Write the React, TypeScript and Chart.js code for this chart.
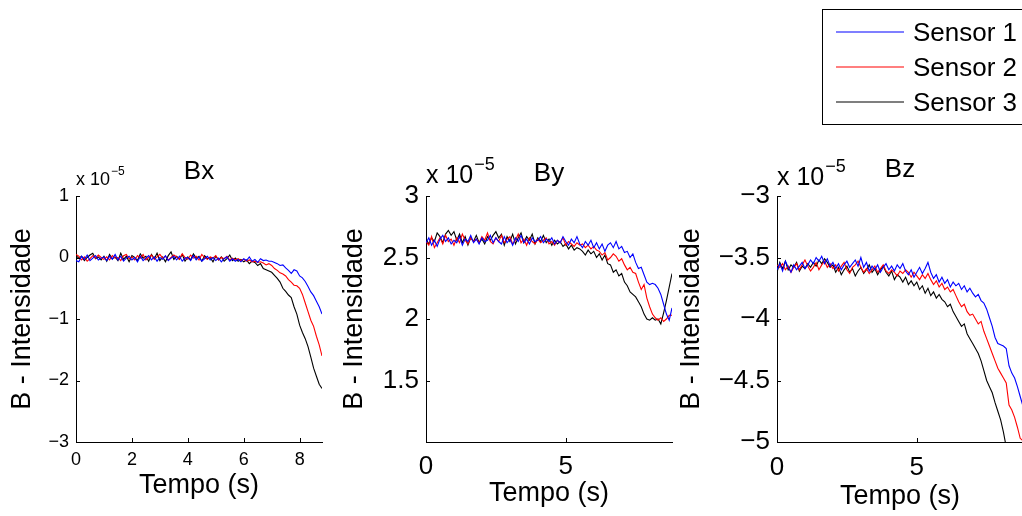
import React, { useEffect, useRef } from 'react';
import { Chart, registerables } from 'chart.js';

Chart.register(...registerables);

// ---------------- DATA (values in units of 1e-5) ----------------
const TIME = [
  0.0, 0.1, 0.2, 0.3, 0.4, 0.5, 0.6, 0.7, 0.8, 0.9,
  1.0, 1.1, 1.2, 1.3, 1.4, 1.5, 1.6, 1.7, 1.8, 1.9,
  2.0, 2.1, 2.2, 2.3, 2.4, 2.5, 2.6, 2.7, 2.8, 2.9,
  3.0, 3.1, 3.2, 3.3, 3.4, 3.5, 3.6, 3.7, 3.8, 3.9,
  4.0, 4.1, 4.2, 4.3, 4.4, 4.5, 4.6, 4.7, 4.8, 4.9,
  5.0, 5.1, 5.2, 5.3, 5.4, 5.5, 5.6, 5.7, 5.8, 5.9,
  6.0, 6.1, 6.2, 6.3, 6.4, 6.5, 6.6, 6.7, 6.8, 6.9,
  7.0, 7.1, 7.2, 7.3, 7.4, 7.5, 7.6, 7.7, 7.8, 7.9,
  8.0, 8.1, 8.2, 8.3, 8.4, 8.5, 8.6, 8.7, 8.8,
];

const SERIES_NAMES = ['Sensor 1', 'Sensor 2', 'Sensor 3'];
const SERIES_COLORS = ['#0000ff', '#ff0000', '#000000'];

const BX_SENSOR1 = [
  -0.05, -0.07, 0.02, -0.03, 0.04, -0.05, -0.01, 0.03, -0.04, -0.01,
  0.01, -0.05, 0.02, -0.03, 0.05, -0.04, 0.02, -0.06, -0.01, 0.02,
  -0.04, 0.00, -0.07, 0.02, -0.05, -0.01, 0.03, -0.04, 0.01, -0.06,
  0.00, -0.03, 0.03, -0.05, -0.01, 0.02, -0.04, 0.02, -0.06, -0.01,
  0.00, -0.05, 0.03, -0.04, 0.01, -0.06, -0.02, 0.02, -0.04, 0.00,
  -0.05, -0.01, -0.07, -0.02, 0.01, -0.06, -0.02, -0.06, -0.03, -0.07,
  -0.02, -0.05, 0.01, -0.06, -0.03, -0.08, -0.02, -0.05, -0.04, -0.06,
  -0.06, -0.08, -0.10, -0.13, -0.12, -0.17, -0.21, -0.26, -0.20, -0.22,
  -0.30, -0.33, -0.39, -0.47, -0.56, -0.62, -0.71, -0.80, -0.92,
];
const BX_SENSOR2 = [
  0.05, 0.02, -0.04, 0.01, -0.06, -0.02, 0.03, -0.01, 0.04, 0.00,
  -0.03, 0.01, -0.04, 0.03, -0.01, 0.00, -0.05, 0.03, 0.05, -0.02,
  0.01, -0.04, 0.03, -0.01, 0.05, -0.04, 0.00, 0.04, -0.03, 0.01,
  0.05, -0.01, 0.02, -0.04, 0.00, 0.04, 0.01, -0.03, 0.06, 0.00,
  -0.03, 0.04, -0.01, 0.02, -0.04, 0.05, 0.00, -0.03, 0.01, -0.01,
  0.03, -0.04, 0.00, -0.02, 0.02, -0.04, -0.01, -0.04, -0.02, -0.05,
  -0.03, -0.06, -0.04, -0.07, -0.06, -0.08, -0.07, -0.09, -0.12, -0.10,
  -0.13, -0.18, -0.21, -0.25, -0.27, -0.30, -0.36, -0.40, -0.45, -0.46,
  -0.50, -0.60, -0.74, -0.88, -1.02, -1.12, -1.28, -1.42, -1.60,
];
const BX_SENSOR3 = [
  0.03, -0.01, 0.02, -0.05, 0.00, 0.04, 0.07, -0.02, 0.01, -0.04,
  0.02, -0.06, 0.05, -0.02, 0.01, -0.05, 0.07, -0.03, 0.02, -0.07,
  0.03, 0.00, -0.05, 0.06, -0.01, 0.02, -0.06, 0.05, -0.02, 0.07,
  -0.05, 0.01, -0.07, 0.03, 0.09, -0.03, 0.02, -0.03, 0.05, -0.06,
  0.01, -0.04, 0.06, -0.01, 0.02, -0.06, 0.03, -0.02, 0.00, -0.07,
  0.02, -0.04, 0.01, -0.06, -0.02, 0.04, -0.05, -0.01, -0.06, -0.03,
  -0.07, -0.04, -0.10, -0.06, -0.08, -0.13, -0.10, -0.18, -0.20, -0.22,
  -0.24, -0.29, -0.34, -0.40, -0.50, -0.55, -0.61, -0.65, -0.80, -0.92,
  -1.10, -1.22, -1.32, -1.45, -1.62, -1.80, -1.93, -2.06, -2.13,
];

const BY_SENSOR1 = [
  2.62, 2.66, 2.60, 2.64, 2.59, 2.65, 2.68, 2.63, 2.66, 2.61,
  2.64, 2.62, 2.67, 2.60, 2.65, 2.63, 2.68, 2.62, 2.65, 2.61,
  2.66, 2.63, 2.64, 2.68, 2.62, 2.66, 2.63, 2.61, 2.67, 2.62,
  2.65, 2.60, 2.66, 2.63, 2.68, 2.62, 2.65, 2.61, 2.66, 2.63,
  2.64, 2.67, 2.62, 2.65, 2.63, 2.66, 2.61, 2.64, 2.62, 2.67,
  2.63, 2.60, 2.65, 2.62, 2.67, 2.61, 2.58, 2.63, 2.60, 2.64,
  2.58, 2.62, 2.57, 2.61, 2.55, 2.60, 2.62, 2.58, 2.63, 2.57,
  2.59, 2.54, 2.55, 2.50, 2.53, 2.46, 2.41, 2.42, 2.36, 2.30,
  2.28, 2.29, 2.28, 2.25, 2.20, 2.12, 2.04, 1.99, 2.09,
];
const BY_SENSOR2 = [
  2.63, 2.60, 2.67, 2.58, 2.62, 2.66, 2.61, 2.68, 2.63, 2.65,
  2.60, 2.66, 2.62, 2.69, 2.64, 2.61, 2.66, 2.63, 2.65, 2.62,
  2.67, 2.64, 2.70, 2.63, 2.61, 2.66, 2.63, 2.68, 2.62, 2.65,
  2.67, 2.61, 2.64, 2.69, 2.62, 2.65, 2.60, 2.66, 2.63, 2.61,
  2.65, 2.62, 2.64, 2.66, 2.61, 2.63, 2.60, 2.64, 2.62, 2.66,
  2.60, 2.63, 2.61, 2.59, 2.62, 2.60, 2.61, 2.58, 2.60, 2.57,
  2.59, 2.56, 2.55, 2.52, 2.54, 2.48, 2.50, 2.53, 2.51, 2.47,
  2.49, 2.44, 2.40, 2.42, 2.38, 2.37, 2.30, 2.24, 2.28, 2.17,
  2.10, 2.04, 2.01, 1.99, 2.01, 1.98, 2.00, 2.03, 2.03,
];
const BY_SENSOR3 = [
  2.65, 2.61, 2.66, 2.63, 2.70, 2.67, 2.62, 2.69, 2.72, 2.68,
  2.71, 2.64, 2.69, 2.62, 2.67, 2.60, 2.66, 2.63, 2.68, 2.62,
  2.65, 2.61, 2.67, 2.64, 2.68, 2.71, 2.66, 2.69, 2.60, 2.67,
  2.63, 2.69, 2.61, 2.66, 2.70, 2.62, 2.67, 2.64, 2.69, 2.61,
  2.66, 2.63, 2.68, 2.62, 2.65, 2.60, 2.64, 2.61, 2.63, 2.59,
  2.61, 2.57, 2.60, 2.56, 2.58, 2.57, 2.55, 2.52, 2.56, 2.53,
  2.55, 2.50, 2.53, 2.48, 2.52, 2.45, 2.44, 2.38, 2.40, 2.35,
  2.37, 2.30, 2.27, 2.22, 2.20, 2.18, 2.14, 2.10, 2.04, 2.00,
  1.99, 2.01, 1.99, 2.00, 1.96, 2.05, 2.15, 2.26, 2.37,
];

const BZ_SENSOR1 = [
  -3.60, -3.55, -3.61, -3.53, -3.58, -3.62, -3.56, -3.60, -3.57, -3.54,
  -3.59, -3.56, -3.52, -3.55, -3.50, -3.53, -3.49, -3.55, -3.51, -3.57,
  -3.54, -3.59, -3.55, -3.60, -3.56, -3.53, -3.58, -3.55, -3.52, -3.57,
  -3.50, -3.58, -3.54, -3.61, -3.57, -3.60, -3.56, -3.62, -3.58, -3.55,
  -3.60, -3.57, -3.61, -3.56, -3.59, -3.55, -3.61, -3.64, -3.60, -3.66,
  -3.62, -3.58, -3.63, -3.59, -3.54, -3.62, -3.67, -3.64, -3.70, -3.66,
  -3.71, -3.68, -3.74, -3.70, -3.73, -3.71, -3.76, -3.73, -3.78, -3.75,
  -3.79, -3.82, -3.80, -3.85, -3.87, -3.92, -3.99, -4.06, -4.15, -4.20,
  -4.21, -4.22, -4.24, -4.38, -4.44, -4.48, -4.55, -4.63, -4.71,
];
const BZ_SENSOR2 = [
  -3.56, -3.58, -3.55, -3.60, -3.57, -3.62, -3.58, -3.55, -3.60, -3.56,
  -3.52, -3.57, -3.61, -3.58, -3.54, -3.60, -3.56, -3.53, -3.58, -3.55,
  -3.59, -3.56, -3.61, -3.57, -3.54, -3.60, -3.63, -3.58, -3.56, -3.53,
  -3.58, -3.62, -3.59, -3.63, -3.60, -3.57, -3.62, -3.59, -3.56, -3.61,
  -3.63, -3.60, -3.62, -3.65, -3.61, -3.63, -3.60, -3.62, -3.66, -3.62,
  -3.65, -3.68, -3.64, -3.67, -3.63, -3.68, -3.72, -3.69, -3.74, -3.71,
  -3.76, -3.74, -3.78, -3.76, -3.81, -3.86, -3.90, -3.88, -3.94, -3.97,
  -3.96, -4.00, -4.04, -4.02, -4.10, -4.16, -4.22, -4.28, -4.34, -4.40,
  -4.44, -4.48, -4.52, -4.70, -4.74, -4.80, -4.88, -4.97, -4.99,
];
const BZ_SENSOR3 = [
  -3.62, -3.54, -3.59, -3.53, -3.60, -3.56, -3.58, -3.54, -3.61, -3.57,
  -3.59, -3.55, -3.58, -3.54, -3.57, -3.52, -3.55, -3.51, -3.54, -3.58,
  -3.56, -3.62, -3.58, -3.64, -3.60, -3.57, -3.62, -3.59, -3.65, -3.61,
  -3.58, -3.63, -3.60, -3.56, -3.62, -3.59, -3.64, -3.60, -3.57, -3.62,
  -3.65, -3.61, -3.68, -3.64, -3.66, -3.70, -3.66, -3.72, -3.69, -3.73,
  -3.70, -3.76, -3.73, -3.79, -3.75, -3.81, -3.78, -3.83, -3.80, -3.84,
  -3.86, -3.90, -3.88, -3.94, -3.98, -4.02, -4.06, -4.04, -4.12, -4.16,
  -4.20, -4.24, -4.28, -4.34, -4.42, -4.50, -4.55, -4.60, -4.68, -4.75,
  -4.82, -4.92, -5.04, -5.14, -5.24, -5.34, -5.44, -5.54, -5.64,
];

const BX_Y_TICKS = [-3, -2, -1, 0, 1];
const BY_Y_TICKS = [1.5, 2, 2.5, 3];
const BZ_Y_TICKS = [-5, -4.5, -4, -3.5, -3];
const BX_X_TICKS = [0, 2, 4, 6, 8];
const BY_X_TICKS = [0, 5];
const BZ_X_TICKS = [0, 5];

const X_MAX = 8.8;
const X_LABEL = 'Tempo (s)';
const Y_LABEL = 'B - Intensidade';
const EXPONENT_BASE = 'x 10';
const EXPONENT_POWER = '\u22125';

// ---------------- LAYOUT / STYLE ----------------
const FONT = '"Liberation Sans", Arial, Helvetica, sans-serif';
const CANVAS_W = 1040;
const CANVAS_H = 516;
const AXIS_TOP = 196;
const AXIS_BOTTOM = 442;

const LEGEND_LAYOUT = {
  left: 822.5, top: 9.5, width: 230, height: 115,
  lineX0: 836, lineX1: 904, firstY: 32, rowGap: 35, textX: 913, font: 26,
};

type PanelSpec = {
  title: string;
  series: number[][];
  yMin: number;
  yMax: number;
  yTicks: number[];
  xTicks: number[];
  axisLeft: number;
  axisRight: number;
  leftBound: number;
  yTitlePad: number;
  xTitlePad: number;
  tickSize: number;
  xTickPad: number;
  expSize: number;
  supSize: number;
  supRise: number;
  expBase: number;
  titleBase: number;
  legend: boolean;
};

const PANELS: PanelSpec[] = [
  {
    title: 'Bx', series: [BX_SENSOR1, BX_SENSOR2, BX_SENSOR3],
    yMin: -3, yMax: 1, yTicks: BX_Y_TICKS, xTicks: BX_X_TICKS,
    axisLeft: 76, axisRight: 322, leftBound: 0,
    yTitlePad: 6.3, xTitlePad: 14.2, tickSize: 18, xTickPad: 7.5,
    expSize: 18, supSize: 12, supRise: 10, expBase: 185, titleBase: 179, legend: false,
  },
  {
    title: 'By', series: [BY_SENSOR1, BY_SENSOR2, BY_SENSOR3],
    yMin: 1, yMax: 3, yTicks: BY_Y_TICKS, xTicks: BY_X_TICKS,
    axisLeft: 426, axisRight: 672, leftBound: 335,
    yTitlePad: 3.8, xTitlePad: 6.5, tickSize: 26, xTickPad: 9,
    expSize: 25, supSize: 18, supRise: 13, expBase: 183, titleBase: 181, legend: false,
  },
  {
    title: 'Bz', series: [BZ_SENSOR1, BZ_SENSOR2, BZ_SENSOR3],
    yMin: -5, yMax: -3, yTicks: BZ_Y_TICKS, xTicks: BZ_X_TICKS,
    axisLeft: 777, axisRight: 1023, leftBound: 670,
    yTitlePad: 5.3, xTitlePad: 3.2, tickSize: 26, xTickPad: 10,
    expSize: 25, supSize: 18, supRise: 13, expBase: 185, titleBase: 177, legend: true,
  },
];

const fmt = (v: number) => (v < 0 ? '\u2212' : '') + String(Math.abs(v));

const decorPlugin = {
  id: 'matlabDecor',
  afterDraw(chart: any, _args: any, opts: any) {
    const { ctx, chartArea } = chart;
    const xs = chart.scales.x;
    const ys = chart.scales.y;
    ctx.save();
    // inward tick marks
    ctx.strokeStyle = '#000000';
    ctx.lineWidth = 1;
    ctx.beginPath();
    for (const t of xs.ticks) {
      const px = Math.round(xs.getPixelForValue(t.value)) + 0.5;
      ctx.moveTo(px, chartArea.bottom);
      ctx.lineTo(px, chartArea.bottom - 4);
    }
    for (const t of ys.ticks) {
      const py = Math.round(ys.getPixelForValue(t.value)) + 0.5;
      ctx.moveTo(chartArea.left, py);
      ctx.lineTo(chartArea.left + 4, py);
    }
    ctx.stroke();

    // subplot title
    ctx.fillStyle = '#000000';
    ctx.textBaseline = 'alphabetic';
    ctx.textAlign = 'center';
    ctx.font = `26px ${FONT}`;
    ctx.fillText(opts.title, (chartArea.left + chartArea.right) / 2, opts.titleBase);

    // exponent label "x 10^-5"
    ctx.textAlign = 'left';
    ctx.font = `${opts.expSize}px ${FONT}`;
    ctx.fillText(EXPONENT_BASE, chartArea.left, opts.expBase);
    const w = ctx.measureText(EXPONENT_BASE).width;
    ctx.font = `${opts.supSize}px ${FONT}`;
    ctx.fillText(EXPONENT_POWER, chartArea.left + w + 1, opts.expBase - opts.supRise);
    ctx.restore();

    // legend
    if (opts.legend) {
      const L = LEGEND_LAYOUT;
      ctx.save();
      ctx.fillStyle = '#ffffff';
      ctx.fillRect(L.left, L.top, L.width, L.height);
      ctx.strokeStyle = '#000000';
      ctx.lineWidth = 1;
      ctx.strokeRect(L.left, L.top, L.width, L.height);
      ctx.restore();
      for (let i = 0; i < SERIES_NAMES.length; i++) {
        const y = L.firstY + i * L.rowGap;
        ctx.save();
        ctx.beginPath();
        ctx.lineWidth = 1.2;
        ctx.strokeStyle = SERIES_COLORS[i];
        ctx.moveTo(L.lineX0, y);
        ctx.lineTo(L.lineX1, y);
        ctx.stroke();
        ctx.restore();
        ctx.save();
        ctx.fillStyle = '#000000';
        ctx.font = `${L.font}px ${FONT}`;
        ctx.textBaseline = 'middle';
        ctx.textAlign = 'left';
        ctx.fillText(SERIES_NAMES[i], L.textX, y + 1.5);
        ctx.restore();
      }
    }
  },
};

function buildConfig(p: PanelSpec): any {
  return {
    type: 'line',
    data: {
      datasets: p.series.map((vals, i) => ({
        label: SERIES_NAMES[i],
        data: TIME.map((t, j) => ({ x: t, y: vals[j] })),
        borderColor: SERIES_COLORS[i],
        backgroundColor: SERIES_COLORS[i],
        borderWidth: 1.1,
        pointRadius: 0,
        tension: 0,
        fill: false,
      })),
    },
    options: {
      responsive: false,
      animation: false,
      events: [],
      layout: {
        padding: { left: p.leftBound, right: CANVAS_W - p.axisRight, top: AXIS_TOP, bottom: 0 },
      },
      plugins: {
        legend: { display: false },
        tooltip: { enabled: false },
        title: { display: false },
        matlabDecor: {
          title: p.title, titleBase: p.titleBase, expSize: p.expSize, supSize: p.supSize,
          supRise: p.supRise, expBase: p.expBase, legend: p.legend,
        },
      },
      scales: {
        x: {
          type: 'linear',
          min: 0,
          max: X_MAX,
          afterBuildTicks: (s: any) => { s.ticks = p.xTicks.map((v) => ({ value: v })); },
          afterFit: (s: any) => { s.height = CANVAS_H - AXIS_BOTTOM; },
          grid: { display: true, drawOnChartArea: false, drawTicks: false },
          border: { display: true, color: '#000', width: 1 },
          ticks: {
            color: '#000', font: { family: FONT, size: p.tickSize }, padding: p.xTickPad,
            maxRotation: 0, minRotation: 0, autoSkip: false,
            callback: (v: any) => fmt(Number(v)),
          },
          title: {
            display: true, text: X_LABEL, color: '#000',
            font: { family: FONT, size: 27 }, padding: { top: 0, bottom: p.xTitlePad },
          },
        },
        y: {
          type: 'linear',
          min: p.yMin,
          max: p.yMax,
          afterBuildTicks: (s: any) => { s.ticks = p.yTicks.map((v) => ({ value: v })); },
          afterFit: (s: any) => { s.width = p.axisLeft - p.leftBound; },
          grid: { display: true, drawOnChartArea: false, drawTicks: false },
          border: { display: true, color: '#000', width: 1 },
          ticks: {
            color: '#000', font: { family: FONT, size: p.tickSize }, padding: 7,
            autoSkip: false,
            callback: (v: any) => fmt(Number(v)),
          },
          title: {
            display: true, text: Y_LABEL, color: '#000',
            font: { family: FONT, size: 27 }, padding: { top: p.yTitlePad, bottom: 0 },
          },
        },
      },
    },
    plugins: [decorPlugin],
  };
}

function Panel({ spec }: { spec: PanelSpec }) {
  const ref = useRef<HTMLCanvasElement>(null);
  useEffect(() => {
    const chart = new Chart(ref.current as HTMLCanvasElement, buildConfig(spec));
    return () => chart.destroy();
  }, [spec]);
  return (
    <canvas
      ref={ref}
      width={CANVAS_W}
      height={CANVAS_H}
      style={{ position: 'absolute', left: 0, top: 0, width: CANVAS_W, height: CANVAS_H }}
    />
  );
}

export default function App() {
  return (
    <div
      style={{
        position: 'absolute', left: 0, top: 0, width: 1022, height: 516,
        overflow: 'hidden', background: '#ffffff',
      }}
    >
      {PANELS.map((p) => (
        <Panel key={p.title} spec={p} />
      ))}
    </div>
  );
}
